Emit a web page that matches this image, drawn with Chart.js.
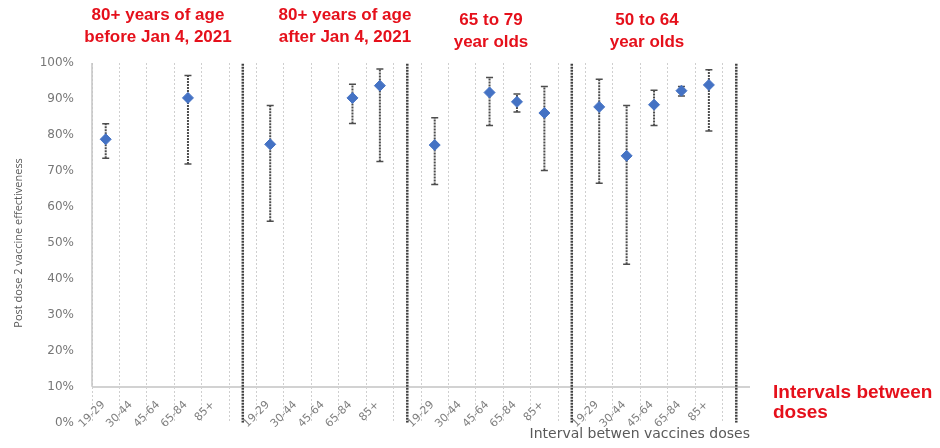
<!DOCTYPE html>
<html>
<head>
<meta charset="utf-8">
<script src="https://cdn.jsdelivr.net/npm/chart.js@4"></script>
<style>
  html, body { margin: 0; padding: 0; background: #fff; }
  #wrap { position: relative; width: 940px; height: 448px; }
</style>
</head>
<body>
<div id="wrap"><canvas id="chart" width="940" height="448"></canvas></div>
<script>
// Interval between doses (days), four age groups, each followed by an empty divider slot
const categories = [
  '19-29', '30-44', '45-64', '65-84', '85+', '',
  '19-29', '30-44', '45-64', '65-84', '85+', '',
  '19-29', '30-44', '45-64', '65-84', '85+', '',
  '19-29', '30-44', '45-64', '65-84', '85+', ''
];

// Post dose 2 vaccine effectiveness (%) and its confidence interval
const effectiveness = [
  78.8, null, null, 90.3, null, null,
  77.4, null, null, 90.3, 93.7, null,
  77.2, null, 91.8, 89.2, 86.1, null,
  87.8, 74.2, 88.4, 92.3, 93.9, null
];
const ciLower = [
  73.5, null, null, 71.9, null, null,
  56.0, null, null, 83.2, 72.6, null,
  66.2, null, 82.6, 86.4, 70.1, null,
  66.6, 44.1, 82.6, 90.8, 81.1, null
];
const ciUpper = [
  83.1, null, null, 96.5, null, null,
  88.2, null, null, 94.1, 98.3, null,
  84.8, null, 96.0, 91.4, 93.5, null,
  95.5, 88.2, 92.4, 93.5, 98.1, null
];

const yTickValues = [0, 10, 20, 30, 40, 50, 60, 70, 80, 90, 100];

const groupTitles = [
  ['80+ years of age', 'before Jan 4, 2021'],
  ['80+ years of age', 'after Jan 4, 2021'],
  ['65 to 79', 'year olds'],
  ['50 to 64', 'year olds']
];
const sideNote = ['Intervals between', 'doses'];

// vertical error-bar segments, broken apart by NaN gaps
const errorBarPoints = [];
effectiveness.forEach((v, i) => {
  if (v === null) return;
  errorBarPoints.push({ x: i, y: ciLower[i] }, { x: i, y: ciUpper[i] }, { x: i, y: NaN });
});

// full-height dividers in the empty slots between age groups
const yMin = yTickValues[0];
const yMax = yTickValues[yTickValues.length - 1];
const dividerPoints = [];
categories.forEach((c, i) => {
  if (c !== '') return;
  dividerPoints.push({ x: i, y: yMin }, { x: i, y: yMax }, { x: i, y: NaN });
});

const RED = '#e5101b';

const decorations = {
  id: 'decorations',
  beforeDatasetsDraw(chart) {
    const { ctx, scales: { x, y } } = chart;
    ctx.save();
    ctx.strokeStyle = '#c4c4c4';
    ctx.lineWidth = 1.5;
    ctx.beginPath();
    ctx.moveTo(x.left, y.getPixelForValue(yMax));
    ctx.lineTo(x.left, y.getPixelForValue(10));
    ctx.stroke();
    ctx.restore();
  },
  afterDraw(chart) {
    const { ctx } = chart;
    ctx.save();
    ctx.fillStyle = RED;
    ctx.textBaseline = 'middle';
    ctx.textAlign = 'center';
    ctx.font = 'bold 17px "Liberation Sans", Arial, sans-serif';
    const spots = [[158, 15], [345, 15], [491, 20], [647, 20]];
    groupTitles.forEach((lines, g) => {
      lines.forEach((t, k) => ctx.fillText(t, spots[g][0], spots[g][1] + k * 22));
    });
    ctx.textAlign = 'left';
    ctx.font = 'bold 19px "Liberation Sans", Arial, sans-serif';
    sideNote.forEach((t, k) => ctx.fillText(t, 773, 393 + k * 20));
    ctx.restore();
  }
};

new Chart(document.getElementById('chart'), {
  type: 'line',
  data: {
    labels: categories,
    datasets: [
      {
        label: 'Effectiveness',
        data: effectiveness,
        showLine: false,
        pointStyle: 'rectRot',
        pointRadius: 5.5,
        pointBackgroundColor: '#4472c4',
        pointBorderColor: '#4472c4',
        pointBorderWidth: 1
      },
      {
        label: 'Confidence interval',
        data: errorBarPoints,
        parsing: false,
        spanGaps: false,
        borderColor: '#4d4d4d',
        borderWidth: 2,
        borderDash: [2, 1],
        pointStyle: 'line',
        pointRadius: 3.5,
        pointBorderColor: '#4d4d4d',
        pointBorderWidth: 1.5
      },
      {
        label: 'Group divider',
        data: dividerPoints,
        parsing: false,
        spanGaps: false,
        borderColor: '#404040',
        borderWidth: 2.5,
        borderDash: [2, 1],
        pointRadius: 0
      }
    ]
  },
  options: {
    responsive: false,
    animation: false,
    devicePixelRatio: 1,
    events: [],
    layout: { padding: { left: 0, top: 63, right: 190, bottom: 0 } },
    plugins: { legend: { display: false }, tooltip: { enabled: false } },
    scales: {
      x: {
        type: 'category',
        offset: true,
        afterFit: (s) => { s.height = 22; },
        grid: {
          offset: true,
          drawTicks: false,
          color: (c) => (c.tick ? '#cfcfcf' : 'rgba(0,0,0,0)'),
          lineWidth: 1
        },
        border: { display: false, dash: [2, 2] },
        ticks: {
          autoSkip: false,
          minRotation: 45,
          maxRotation: 45,
          mirror: true,
          padding: 15,
          labelOffset: 7,
          color: '#7f7f7f',
          font: { family: '"DejaVu Sans", sans-serif', size: 11 }
        },
        title: {
          display: true,
          text: 'Interval betwen vaccines doses',
          align: 'end',
          color: '#595959',
          font: { family: '"DejaVu Sans", sans-serif', size: 14 },
          padding: { top: 0, bottom: 2 }
        }
      },
      y: {
        min: yMin,
        max: yMax,
        afterFit: (s) => { s.width = 92; },
        afterBuildTicks: (s) => { s.ticks = yTickValues.map((v) => ({ value: v })); },
        grid: {
          drawTicks: false,
          color: (c) => (c.tick && c.tick.value === 10 ? '#d2d2d2' : 'rgba(0,0,0,0)'),
          lineWidth: 2
        },
        border: { display: false },
        ticks: {
          padding: 18,
          color: '#777777',
          font: { family: '"DejaVu Sans", sans-serif', size: 12 },
          callback: (v) => v + '%'
        },
        title: {
          display: true,
          text: 'Post dose 2 vaccine effectiveness',
          color: '#595959',
          font: { family: '"Open Sans", sans-serif', size: 11 },
          padding: { top: 12, bottom: 0 }
        }
      }
    }
  },
  plugins: [decorations]
});
</script>
</body>
</html>
